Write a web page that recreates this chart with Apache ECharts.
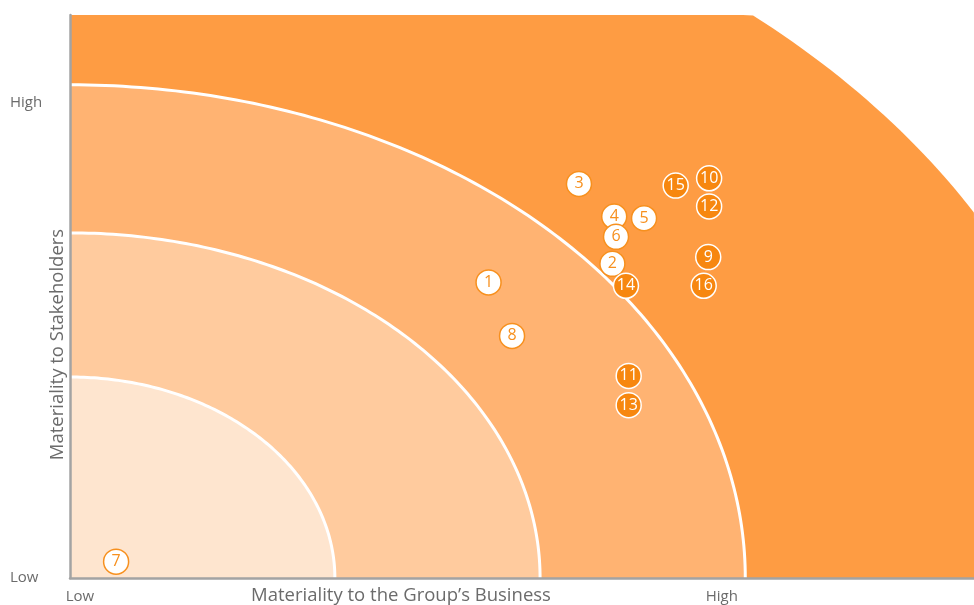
<!DOCTYPE html>
<html>
<head>
<meta charset="utf-8">
<script src="https://cdn.jsdelivr.net/npm/echarts@6/dist/echarts.min.js"></script>
<style>
  html, body { margin: 0; padding: 0; background: #fff; }
  #chart { width: 974px; height: 605px; }
</style>
</head>
<body>
<div id="chart"></div>
<script>
// materiality bands, outer -> inner (radii in axis units)
const ringRx = [114.6, 74.7, 52.0, 29.3]
const ringRy = [132.9, 87.6, 61.3, 35.7]

// topics
const topicIds = ['1', '2', '3', '4', '5', '6', '7', '8', '9', '10', '11', '12', '13', '14', '15', '16']
const topicX = [46.3, 60.0, 56.3, 60.2, 63.5, 60.4, 5.1, 48.9, 70.6, 70.7, 61.8, 70.7, 61.8, 61.5, 67.0, 70.1]
const topicY = [52.5, 55.8, 70.0, 64.2, 63.9, 60.6, 2.9, 43.0, 57.0, 71.0, 35.9, 66.0, 30.7, 51.9, 69.7, 51.9]
const topicKey = [false, false, false, false, false, false, false, false, true, true, true, true, true, true, true, true]

// tick labels
const xTickValues = [1.1, 72.1]
const xTickLabels = ['Low', 'High']
const yTickValues = [0, 84.5]
const yTickLabels = ['Low', 'High']

const bandColors = ['#FE9C43', '#FFB372', '#FFCB9E', '#FEE5CF']
const textGray = '#6b6b6b'
const font = '"Open Sans", "Noto Sans", sans-serif'

const ringData = ringRx.map((rx, i) => [rx, ringRy[i], i])
const plain = []
const key = []
topicIds.forEach((id, i) => {
  const item = { name: id, value: [topicX[i], topicY[i]] }
  if (topicKey[i]) key.push(item)
  else plain.push(item)
})

const renderRing = (params, api) => {
  const rx = api.value(0)
  const ry = api.value(1)
  const idx = api.value(2)
  const arc = []
  for (let k = 0; k <= 120; k++) {
    const t = (k / 120) * Math.PI / 2
    const x = Math.min(rx * Math.cos(t), 100)
    const y = Math.min(ry * Math.sin(t), 100)
    arc.push(api.coord([x, y]))
  }
  const origin = api.coord([0, 0])
  const children = [{
    type: 'polygon',
    shape: { points: [origin].concat(arc) },
    style: { fill: bandColors[idx] }
  }]
  if (idx > 0) {
    children.push({
      type: 'polyline',
      shape: { points: arc },
      style: { stroke: '#fff', lineWidth: 3, fill: null }
    })
  }
  return { type: 'group', children }
}

const tickFmt = (vals, labels) => (v) => {
  const i = vals.findIndex((t) => Math.abs(t - v) < 1e-6)
  return i >= 0 ? labels[i] : ''
}

const chart = echarts.init(document.getElementById('chart'))
chart.setOption({
  animation: false,
  grid: { left: 70, right: 0, top: 15, bottom: 27, containLabel: false, outerBoundsMode: 'none' },
  xAxis: {
    type: 'value', min: 0, max: 100, z: 10,
    name: 'Materiality to the Group\u2019s Business',
    nameLocation: 'middle', nameGap: 8, nameMoveOverlap: false,
    nameTextStyle: { fontFamily: font, fontSize: 18.5, color: textGray, padding: [0, 242, 0, 0] },
    axisLine: { show: true, onZero: false, lineStyle: { color: '#a3a3a3', width: 2.5 } },
    axisTick: { show: false },
    splitLine: { show: false },
    axisLabel: {
      customValues: xTickValues, margin: 11, showMinLabel: true,
      fontFamily: font, fontSize: 15, color: textGray,
      formatter: tickFmt(xTickValues, xTickLabels)
    }
  },
  yAxis: {
    type: 'value', min: 0, max: 100, z: 10,
    name: 'Materiality to Stakeholders',
    nameLocation: 'middle', nameGap: 3, nameMoveOverlap: false,
    nameTextStyle: { fontFamily: font, fontSize: 18.5, color: textGray, padding: [0, 96, 0, 0] },
    axisLine: { show: true, onZero: false, lineStyle: { color: '#a3a3a3', width: 2.5 } },
    axisTick: { show: false },
    splitLine: { show: false },
    axisLabel: {
      customValues: yTickValues, margin: 60, align: 'left', showMinLabel: true,
      fontFamily: font, fontSize: 15, color: textGray,
      formatter: tickFmt(yTickValues, yTickLabels)
    }
  },
  series: [
    {
      type: 'custom',
      renderItem: renderRing,
      data: ringData,
      silent: true,
      z: 1
    },
    {
      type: 'scatter',
      data: plain,
      symbolSize: 25,
      z: 5,
      itemStyle: { color: '#fff', borderColor: '#F7901E', borderWidth: 1.5, opacity: 1 },
      label: {
        show: true, position: 'inside', formatter: '{b}',
        fontFamily: font, fontSize: 16, color: '#F7901E'
      }
    },
    {
      type: 'scatter',
      data: key,
      symbolSize: 25,
      z: 5,
      itemStyle: { color: '#F7870F', borderColor: '#fff', borderWidth: 1.5, opacity: 1 },
      label: {
        show: true, position: 'inside', formatter: '{b}',
        fontFamily: font, fontSize: 16, color: '#fff'
      }
    }
  ]
})
window.addEventListener('resize', () => chart.resize())
</script>
</body>
</html>
